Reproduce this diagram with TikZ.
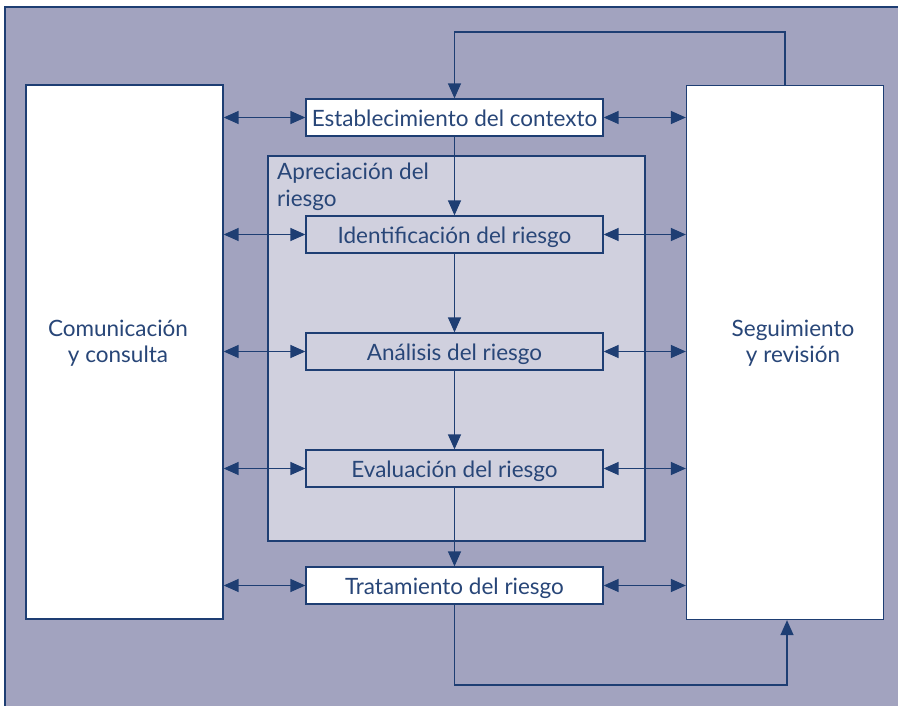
\documentclass[tikz,border=0pt]{standalone}
\usepackage{fontspec}
\setmainfont{Lato}
\usetikzlibrary{arrows.meta}
\definecolor{bgc}{RGB}{162,163,191}
\definecolor{inner}{RGB}{208,208,222}
\definecolor{lnc}{RGB}{30,62,115}
\definecolor{txc}{RGB}{40,70,120}
\tikzset{
  every node/.style={font=\fontsize{22.5}{26}\selectfont, text=txc},
  bigbox/.style={draw=lnc, line width=1.3pt, fill=white, minimum width=197pt, minimum height=534pt, inner sep=0pt},
  bigtext/.style={align=center, inner sep=0pt},
  stepbox/.style={draw=lnc, line width=1.3pt, minimum width=297pt, minimum height=37pt, inner sep=0pt, text height=20pt, text depth=2pt},
  conn/.style={draw=lnc, line width=1.4pt, -{Triangle[length=15pt,width=13pt]}},
  dconn/.style={draw=lnc, line width=1.4pt, {Triangle[length=15pt,width=13pt]}-{Triangle[length=15pt,width=13pt]}},
}
\begin{document}
\begin{tikzpicture}[x=1pt,y=-1pt]
\useasboundingbox (0,0) rectangle (898,706);
\fill[bgc] (5,7) rectangle (898,706);
\draw[lnc, line width=1.3pt] (5,706) -- (5,7) -- (898,7);
\node[draw=lnc, line width=1.3pt, fill=inner, minimum width=377pt, minimum height=385pt, inner sep=0pt] (apr) at (456.5,348.5) {};
\node[anchor=north west, align=left, inner sep=0pt, font=\fontsize{22.5}{27}\selectfont] (aprl) at (277,163) {Apreciación del\\riesgo};
\node[bigbox] (com) at (124.5,352) {};
\node[bigtext] (comt) at (118,343) {Comunicación\\y consulta};
\node[bigbox] (seg) at (785,352.5) {};
\node[bigtext] (segt) at (793,343) {Seguimiento\\y revisión};
\node[stepbox, fill=white] (est) at (454.5,117.5) {Establecimiento del contexto};
\node[stepbox, fill=inner] (ide) at (454.5,234.5) {Identificación del riesgo};
\node[stepbox, fill=inner] (ana) at (454.5,351.5) {Análisis del riesgo};
\node[stepbox, fill=inner] (eva) at (454.5,468.5) {Evaluación del riesgo};
\node[stepbox, fill=white] (tra) at (454.5,585.5) {Tratamiento del riesgo};
\coordinate (t1) at (785,32);
\coordinate (t2) at (454.5,32);
\coordinate (b1) at (454.5,685);
\coordinate (b2) at (787,685);
\draw[conn] (seg.north -| t1) -- (t1) -- (t2) -- (est.north);
\draw[conn] (est) -- (ide);
\draw[conn] (ide) -- (ana);
\draw[conn] (ana) -- (eva);
\draw[conn] (eva) -- (tra);
\draw[conn] (tra.south) -- (b1) -- (b2) -- (seg.south -| b2);
\foreach \n in {est,ide,ana,eva,tra}{
  \draw[dconn] (com.east |- \n.west) -- (\n.west);
  \draw[dconn] (\n.east) -- (seg.west |- \n.east);
}
\end{tikzpicture}
\end{document}
